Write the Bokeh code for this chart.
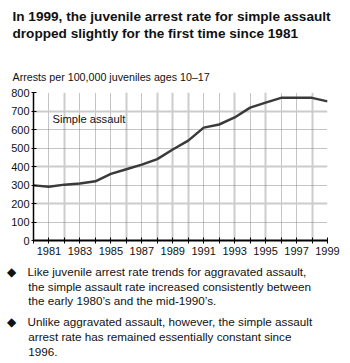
from bokeh.plotting import figure
from bokeh.models import Label, FixedTicker, Range1d, Grid, Title
from bokeh.embed import file_html
from bokeh.resources import INLINE

# ---- data ----
years = list(range(1980, 2000))
simple_assault = [298, 290, 302, 308, 320, 360, 385, 410, 440, 492,
                  540, 610, 627, 665, 718, 745, 771, 771, 771, 752]
x_tick_years = list(range(1980, 2000))
x_label_years = list(range(1981, 2000, 2))
y_ticks = [0, 100, 200, 300, 400, 500, 600, 700, 800]

title_lines = ["In 1999, the juvenile arrest rate for simple assault",
               "dropped slightly for the first time since 1981"]
y_title = "Arrests per 100,000 juveniles ages 10\u201317"
series_label = "Simple assault"
bullets = [
    ["Like juvenile arrest rate trends for aggravated assault,",
     "the simple assault rate increased consistently between",
     "the early 1980\u2019s and the mid-1990\u2019s."],
    ["Unlike aggravated assault, however, the simple assault",
     "arrest rate has remained essentially constant since",
     "1996."],
]

# grid styling groups (as seen in the reference)
solid_vgrid = [1982, 1986, 1988, 1989, 1990, 1993, 1995, 1998]
dotted_vgrid = [1981, 1983, 1984, 1985, 1987, 1991, 1992, 1994, 1996, 1997, 1999]
solid_hgrid = [200, 400, 700]
dotted_hgrid = [100, 300, 500, 600, 800]

W, H = 350, 363
FL, FR, FT, FB = 33, 327, 92, 240  # frame edges in canvas px

FONT = "Liberation Sans"
TXT = "#111111"

p = figure(width=W, height=H, output_backend="svg", toolbar_location=None,
           x_range=Range1d(1980, 1999), y_range=Range1d(0, 800),
           min_border_left=FL, min_border_right=W - FR,
           min_border_top=FT, min_border_bottom=H - FB)
p.outline_line_color = None
p.xgrid.visible = False
p.ygrid.visible = False

def add_grid(dim, ticks, color, width, dash):
    p.add_layout(Grid(dimension=dim, ticker=FixedTicker(ticks=ticks),
                      grid_line_color=color, grid_line_width=width,
                      grid_line_dash=dash))

add_grid(0, solid_vgrid, "#cccccc", 2, "solid")
add_grid(0, dotted_vgrid, "#888888", 1, "1 1")
add_grid(1, solid_hgrid, "#cccccc", 2, "solid")
add_grid(1, dotted_hgrid, "#888888", 1, "1 1")

p.line(years, simple_assault, line_color="#3a3a3a", line_width=2.5)

xa = p.xaxis[0]
xa.ticker = FixedTicker(ticks=x_tick_years)
xa.major_label_overrides = {y: (str(y) if y in x_label_years else "") for y in x_tick_years}
xa.axis_line_color = "black"
xa.axis_line_width = 2
xa.major_tick_in = 3
xa.major_tick_out = 3
xa.minor_tick_line_color = None
xa.major_tick_line_color = "black"
xa.major_label_standoff = 3
xa.major_label_text_font = FONT
xa.major_label_text_font_size = "11px"
xa.major_label_text_color = TXT

ya = p.yaxis[0]
ya.ticker = FixedTicker(ticks=y_ticks)
ya.axis_line_color = "black"
ya.axis_line_width = 1.5
ya.major_tick_in = 3
ya.major_tick_out = 2
ya.minor_tick_line_color = None
ya.major_label_standoff = 2
ya.major_label_text_font = FONT
ya.major_label_text_font_size = "11px"
ya.major_label_text_color = TXT

def title(txt, place, size, left_px, standoff, bold=False, lh=1.15, font=FONT):
    p.add_layout(Title(text=txt, align="left", offset=left_px - FL,
                       standoff=standoff, text_font=font, text_font_size=size,
                       text_font_style="bold" if bold else "normal",
                       text_color=TXT, text_line_height=lh), place)

NB = "\u00a0"
TH = "\u2009"

# above: stacked from the frame outward
title(y_title, "above", "10.7px", 12, 19)
title(NB, "above", "2px", 12, 13.6)                       # spacer
title("\n".join(title_lines), "above", "13.6px", 12, 0, bold=True, lh=1.18)

# below: stacked from the frame outward (after the x axis)
standoffs = [10, 1.0]
for bl, so in zip(bullets, standoffs):
    lines = ["\u25c6" + NB * 3 + TH + bl[0]] + [NB * 6 + TH + t for t in bl[1:]]
    title("\n".join(lines), "below", "11.7px", 6, so, lh=1.14)

# series label inside the frame (data coords derived from canvas px)
def dx(px):
    return 1980 + (px - FL) * (1999 - 1980) / (FR - FL)

def dy(py):
    return (FB - py) * 800 / (FB - FT)

p.add_layout(Label(x=dx(52), y=dy(118), text=series_label, text_font=FONT,
                   text_font_size="11.2px", text_color=TXT, text_baseline="middle"))

open("out.html", "w").write(file_html(p, INLINE))
